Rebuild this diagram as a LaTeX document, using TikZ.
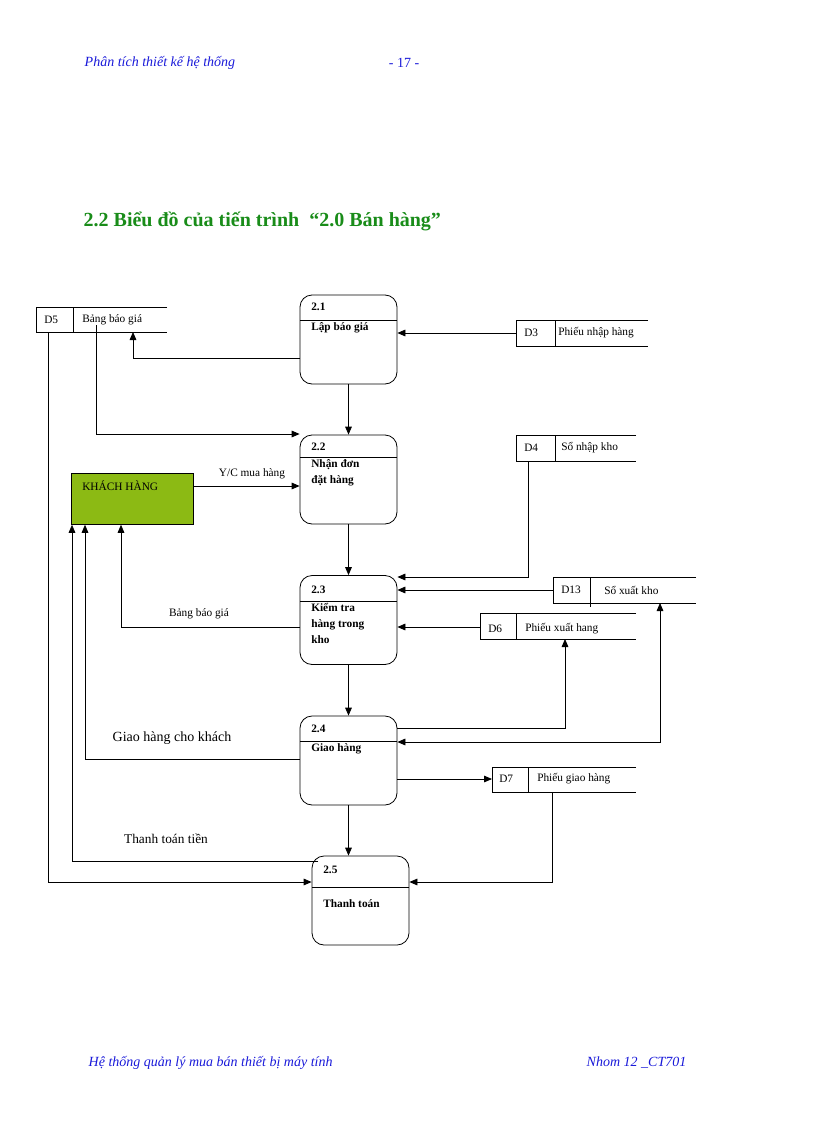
\documentclass[tikz,border=0pt]{standalone}
\usepackage{fontspec}
\setmainfont{Liberation Serif}
\usetikzlibrary{arrows.meta}
\definecolor{hdrblue}{rgb}{0.1,0.1,0.85}
\definecolor{ttlgreen}{rgb}{0.1,0.55,0.1}
\definecolor{khgreen}{RGB}{140,186,20}
\begin{document}
\begin{tikzpicture}[x=0.75pt,y=-0.75pt,
  proc/.style={draw,rounded corners=9pt,minimum width=72.75pt,minimum height=66.75pt,inner sep=0pt,line width=0.6pt},
  lbl/.style={font=\fontsize{8.5}{10}\selectfont,inner sep=0pt},
  blbl/.style={font=\fontsize{8.5}{12}\selectfont\bfseries,inner sep=0pt,align=left,anchor=north west},
  fl/.style={-{Triangle[length=6pt,width=5pt]},line width=0.6pt},
  ln/.style={line width=0.6pt}]
\useasboundingbox (0,0) rectangle (816,1123);
% header/footer
\node[font=\fontsize{10.5}{12}\selectfont\itshape,text=hdrblue,anchor=west] (h1) at (80,63) {Phân tích thiết kế hệ thống};
\node[font=\fontsize{10.5}{12}\selectfont,text=hdrblue] (h2) at (404,63) {- 17 -};
\node[font=\fontsize{15}{18}\selectfont\bfseries,text=ttlgreen,anchor=west] (ttl) at (79,221) {2.2 Biểu đồ của tiến trình \ “2.0 Bán hàng”};
\node[font=\fontsize{10.5}{12}\selectfont\itshape,text=hdrblue,anchor=west] (f1) at (84,1063) {Hệ thống quản lý mua bán thiết bị máy tính};
\node[font=\fontsize{10.5}{12}\selectfont\itshape,text=hdrblue,anchor=west] (f2) at (582,1063) {Nhom 12 \_CT701};
% processes
\node[proc] (p1) at (348.5,339.5) {};
\node[proc] (p2) at (348.5,479.5) {};
\node[proc] (p3) at (348.5,620) {};
\node[proc] (p4) at (348.5,760.5) {};
\node[proc] (p5) at (360.5,900.5) {};
\draw[ln] (300,320)--(397,320) (300,457)--(397,457) (300,601)--(397,601) (300,741)--(397,741) (312,887)--(409,887);
\node[blbl] (p1n) at (311,303) {2.1};
\node[blbl] (p1t) at (311,322) {Lập báo giá};
\node[blbl] (p2n) at (311,443) {2.2};
\node[blbl] (p2t) at (311,459) {Nhận đơn\\đặt hàng};
\node[blbl] (p3n) at (311,586) {2.3};
\node[blbl] (p3t) at (311,603) {Kiểm tra\\hàng trong\\kho};
\node[blbl] (p4n) at (311,725) {2.4};
\node[blbl] (p4t) at (311,743) {Giao hàng};
\node[blbl] (p5n) at (323,866) {2.5};
\node[blbl] (p5t) at (323,899) {Thanh toán};
% external entity
\node[draw,fill=khgreen,minimum width=91.5pt,minimum height=38.25pt,anchor=north west,line width=0.6pt] (kh) at (71,473) {};
\node[lbl,anchor=west] (khl) at (82,486) {KHÁCH HÀNG};
% data stores
\draw[ln] (167,307)--(36,307)--(36,332)--(167,332) (73,307)--(73,332);
\node[lbl,anchor=west] (d5) at (44,320) {D5};
\node[lbl,anchor=west] (d5t) at (82,320) {Bảng báo giá};
\draw[ln] (648,320)--(516,320)--(516,346)--(648,346) (555,320)--(555,346);
\node[lbl,anchor=west] (d3) at (524,333) {D3};
\node[lbl,anchor=west] (d3t) at (558,333) {Phiếu nhập hàng};
\draw[ln] (636,435)--(516,435)--(516,461)--(636,461) (555,435)--(555,461);
\node[lbl,anchor=west] (d4) at (524,448) {D4};
\node[lbl,anchor=west] (d4t) at (561,448) {Sổ nhập kho};
\draw[ln] (696,577)--(553,577)--(553,603)--(696,603) (590,577)--(590,607);
\node[lbl,anchor=west] (d13) at (561,590) {D13};
\node[lbl,anchor=west] (d13t) at (604,590) {Sổ xuất kho};
\draw[ln] (636,613)--(480,613)--(480,639)--(636,639) (516,613)--(516,639);
\node[lbl,anchor=west] (d6) at (488,629) {D6};
\node[lbl,anchor=west] (d6t) at (525,629) {Phiếu xuất hang};
\draw[ln] (636,767)--(492,767)--(492,792)--(636,792) (528,767)--(528,792);
\node[lbl,anchor=west] (d7) at (499,779) {D7};
\node[lbl,anchor=west] (d7t) at (537,779) {Phiếu giao hàng};
\coordinate (d5b) at (133,332);
\coordinate (d5c) at (96,325);
\coordinate (d5d) at (48,332);
\coordinate (d3l) at (516,333);
\coordinate (d4b) at (528,461);
\coordinate (d13l) at (553,590);
\coordinate (d13b) at (660,603);
\coordinate (d6l) at (480,627);
\coordinate (d6b) at (565,639);
\coordinate (d7l) at (492,779);
\coordinate (d7b) at (552,792);
% flows
\draw[fl] (d3l) -- (p1.east |- d3l);
\draw[fl] (p1.west |- 0,358) -| (d5b);
\draw[fl] (p1) -- (p2);
\draw[fl] (d5c) |- (p2.west |- 0,434);
\draw[fl] (kh.east |- 0,486) -- (p2.west |- 0,486) node[lbl,pos=0.55,above=5pt] {Y/C mua hàng};
\draw[fl] (p2) -- (p3);
\draw[fl] (d4b) |- (p3.east |- 0,577);
\draw[fl] (d13l) -- (p3.east |- d13l);
\draw[fl] (d6l) -- (p3.east |- d6l);
\draw[fl] (p3.west |- 0,627) -| (kh.south -| 121,0);
\node[lbl] (bbg) at (199,614) {Bảng báo giá};
\draw[fl] (p3) -- (p4);
\draw[fl] (p4.east |- 0,728) -| (d6b);
\draw[{Triangle[length=6pt,width=5pt]}-{Triangle[length=6pt,width=5pt]},ln] (p4.east |- 0,742) -| (d13b);
\draw[fl] (p4.west |- 0,759) -| (kh.south -| 85,0);
\node[font=\fontsize{10.5}{12}\selectfont,inner sep=0pt] (ghk) at (172,738) {Giao hàng cho khách};
\draw[fl] (p4.east |- d7l) -- (d7l);
\draw[fl] (p4.south) -- (p5.north -| p4.south);
\draw[fl] (318,861) -| (kh.south -| 72,0);
\node[font=\fontsize{10}{12}\selectfont,inner sep=0pt] (ttt) at (166,839) {Thanh toán tiền};
\draw[fl] (d5d) |- (p5.west |- 0,882);
\draw[fl] (d7b) |- (p5.east |- 0,882);
\end{tikzpicture}
\end{document}
